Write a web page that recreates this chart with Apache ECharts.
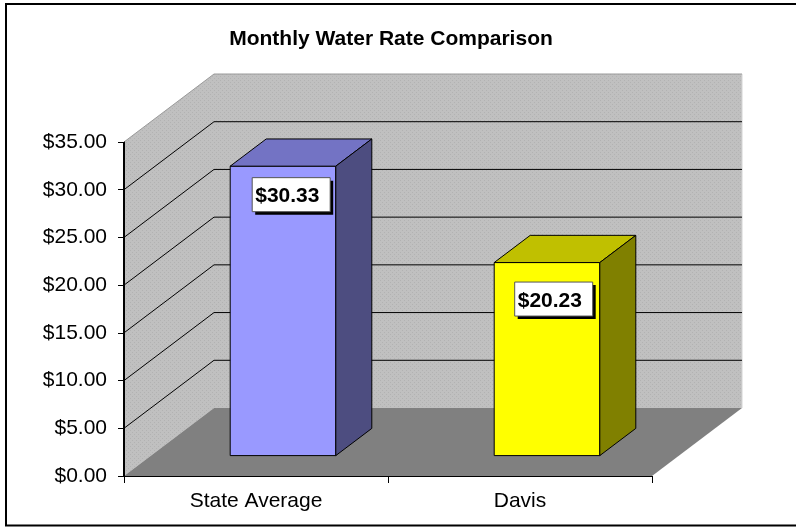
<!DOCTYPE html>
<html>
<head>
<meta charset="utf-8">
<style>
html, body { margin: 0; padding: 0; background: #fff; overflow: hidden; }
#chart { width: 796px; height: 527px; }
</style>
<script src="https://cdn.jsdelivr.net/npm/echarts@6/dist/echarts.min.js"></script>
</head>
<body>
<div id="chart"></div>
<script>
const categories = ['State Average', 'Davis'];
const rates = [30.33, 20.23];
const yTicks = [5, 10, 15, 20, 25, 30, 35];

const FONT = '"Liberation Sans", Arial, sans-serif';
const DEPTH_X = 90;
const DEPTH_Y = 68;

// front, top, side
const barColors = [
    ['#9999ff', '#7373c4', '#4d4d80'],
    ['#ffff00', '#c0c000', '#808000']
];

function money(v) {
    return '$' + v.toFixed(2);
}

function wallPattern() {
    const c = document.createElement('canvas');
    c.width = 4;
    c.height = 4;
    const ctx = c.getContext('2d');
    ctx.fillStyle = '#c0c0c0';
    ctx.fillRect(0, 0, 4, 4);
    ctx.fillStyle = '#b2b2b2';
    ctx.fillRect(0, 0, 1, 1);
    ctx.fillRect(2, 2, 1, 1);
    return { image: c, repeat: 'repeat' };
}
const wallFill = wallPattern();

function poly(points, fill, stroke, lineWidth) {
    return {
        type: 'polygon',
        shape: { points: points },
        style: { fill: fill, stroke: stroke || null, lineWidth: lineWidth || 0 }
    };
}

function renderWalls(params) {
    const g = params.coordSys;
    const l = g.x, r = g.x + g.width, t = g.y, b = g.y + g.height;
    const dx = DEPTH_X, dy = DEPTH_Y;
    return {
        type: 'group',
        children: [
            poly([[l, b], [l + dx, b - dy], [l + dx, t - dy], [l, t]], wallFill),
            poly([[l + dx, b - dy], [r + dx, b - dy], [r + dx, t - dy], [l + dx, t - dy]], wallFill),
            poly([[l, b], [r, b], [r + dx, b - dy], [l + dx, b - dy]], '#808080'),
            {
                type: 'line',
                shape: { x1: r + dx, y1: t - dy, x2: r + dx, y2: b - dy },
                style: { stroke: '#d4d4d4', lineWidth: 1 }
            },
            {
                type: 'line',
                shape: { x1: l - 0.5, y1: t, x2: l - 0.5, y2: b },
                style: { stroke: '#000', lineWidth: 1 }
            }
        ]
    };
}

function renderGrid(params, api) {
    const g = params.coordSys;
    const v = api.value(0);
    const y = api.coord([0, v])[1];
    const color = v === 35 ? '#9a9a9a' : '#000';
    const x0 = g.x, x1 = g.x + DEPTH_X, x2 = g.x + g.width + DEPTH_X;
    return {
        type: 'polyline',
        shape: { points: [[x0, y], [x1, y - DEPTH_Y], [x2, y - DEPTH_Y]] },
        style: { fill: null, stroke: color, lineWidth: 1 }
    };
}

function renderBar(params, api) {
    const i = api.value(0);
    const v = api.value(1);
    const band = api.size([1, 0])[0];
    const w = band * 0.4;
    const dx = DEPTH_X * 0.4, dy = DEPTH_Y * 0.4;
    const base = api.coord([i, 0]);
    const top = api.coord([i, v]);
    const x0 = base[0] - w / 2 + DEPTH_X * 0.3;
    const x1 = x0 + w;
    const yb = base[1] - DEPTH_Y * 0.3;
    const yt = top[1] - DEPTH_Y * 0.3;
    const c = barColors[i];
    const boxW = 78, boxH = 34;
    const boxX = x0 + [22, 20.5][i];
    const boxY = yt + [11.5, 19.5][i];
    return {
        type: 'group',
        children: [
            poly([[x0, yb], [x1, yb], [x1, yt], [x0, yt]], c[0], '#000', 1),
            poly([[x0, yt], [x1, yt], [x1 + dx, yt - dy], [x0 + dx, yt - dy]], c[1], '#000', 1),
            poly([[x1, yb], [x1 + dx, yb - dy], [x1 + dx, yt - dy], [x1, yt]], c[2], '#000', 1),
            {
                type: 'rect',
                shape: { x: boxX + 3, y: boxY + 3, width: boxW, height: boxH },
                style: { fill: '#000' }
            },
            {
                type: 'rect',
                shape: { x: boxX, y: boxY, width: boxW, height: boxH },
                style: { fill: '#fff', stroke: '#555', lineWidth: 1 }
            },
            {
                type: 'text',
                style: {
                    x: boxX + 3,
                    y: boxY + boxH / 2 + 2,
                    text: money(v),
                    fill: '#000',
                    font: 'bold 21px ' + FONT,
                    textAlign: 'left',
                    textVerticalAlign: 'middle'
                }
            }
        ]
    };
}

const option = {
    animation: false,
    backgroundColor: '#fff',
    title: {
        text: 'Monthly Water Rate Comparison',
        left: 386,
        top: 24,
        textAlign: 'center',
        textStyle: { fontFamily: FONT, fontSize: 21, fontWeight: 'bold', color: '#000' }
    },
    grid: { left: 124, top: 142, width: 528, height: 334 },
    xAxis: {
        type: 'category',
        data: categories,
        z: 10,
        axisLine: { onZero: false, lineStyle: { color: '#000', width: 1 } },
        axisTick: { show: true, alignWithLabel: false, interval: 0, length: 7, lineStyle: { color: '#000' } },
        axisLabel: { margin: 15, fontFamily: FONT, fontSize: 21, color: '#000' },
        splitLine: { show: false }
    },
    yAxis: {
        type: 'value',
        min: 0,
        max: 35,
        interval: 5,
        z: 10,
        axisLine: { show: true, onZero: false, lineStyle: { color: '#000', width: 1 } },
        axisTick: { show: true, length: 6, lineStyle: { color: '#000' } },
        axisLabel: {
            margin: 17,
            fontFamily: FONT,
            fontSize: 21,
            color: '#000',
            formatter: money,
            verticalAlignMinLabel: 'middle',
            verticalAlignMaxLabel: 'middle',
            padding: [4, 0, 0, 0]
        },
        splitLine: { show: false }
    },
    graphic: [{
        type: 'rect',
        shape: { x: 6, y: 4, width: 900, height: 521.5 },
        style: { fill: null, stroke: '#000', lineWidth: 2 },
        z: 20
    }],
    series: [
        { type: 'custom', z: 1, silent: true, data: [[0, 0]], renderItem: renderWalls },
        { type: 'custom', z: 2, silent: true, data: yTicks.map(function (t) { return [t]; }), dimensions: ['tick'], encode: { y: 0 }, renderItem: renderGrid },
        {
            type: 'custom',
            z: 3,
            silent: true,
            data: rates.map(function (v, i) { return [i, v]; }),
            encode: { x: 0, y: 1 },
            renderItem: renderBar
        }
    ]
};

const chart = echarts.init(document.getElementById('chart'), null, { renderer: 'canvas' });
chart.setOption(option);
</script>
</body>
</html>
